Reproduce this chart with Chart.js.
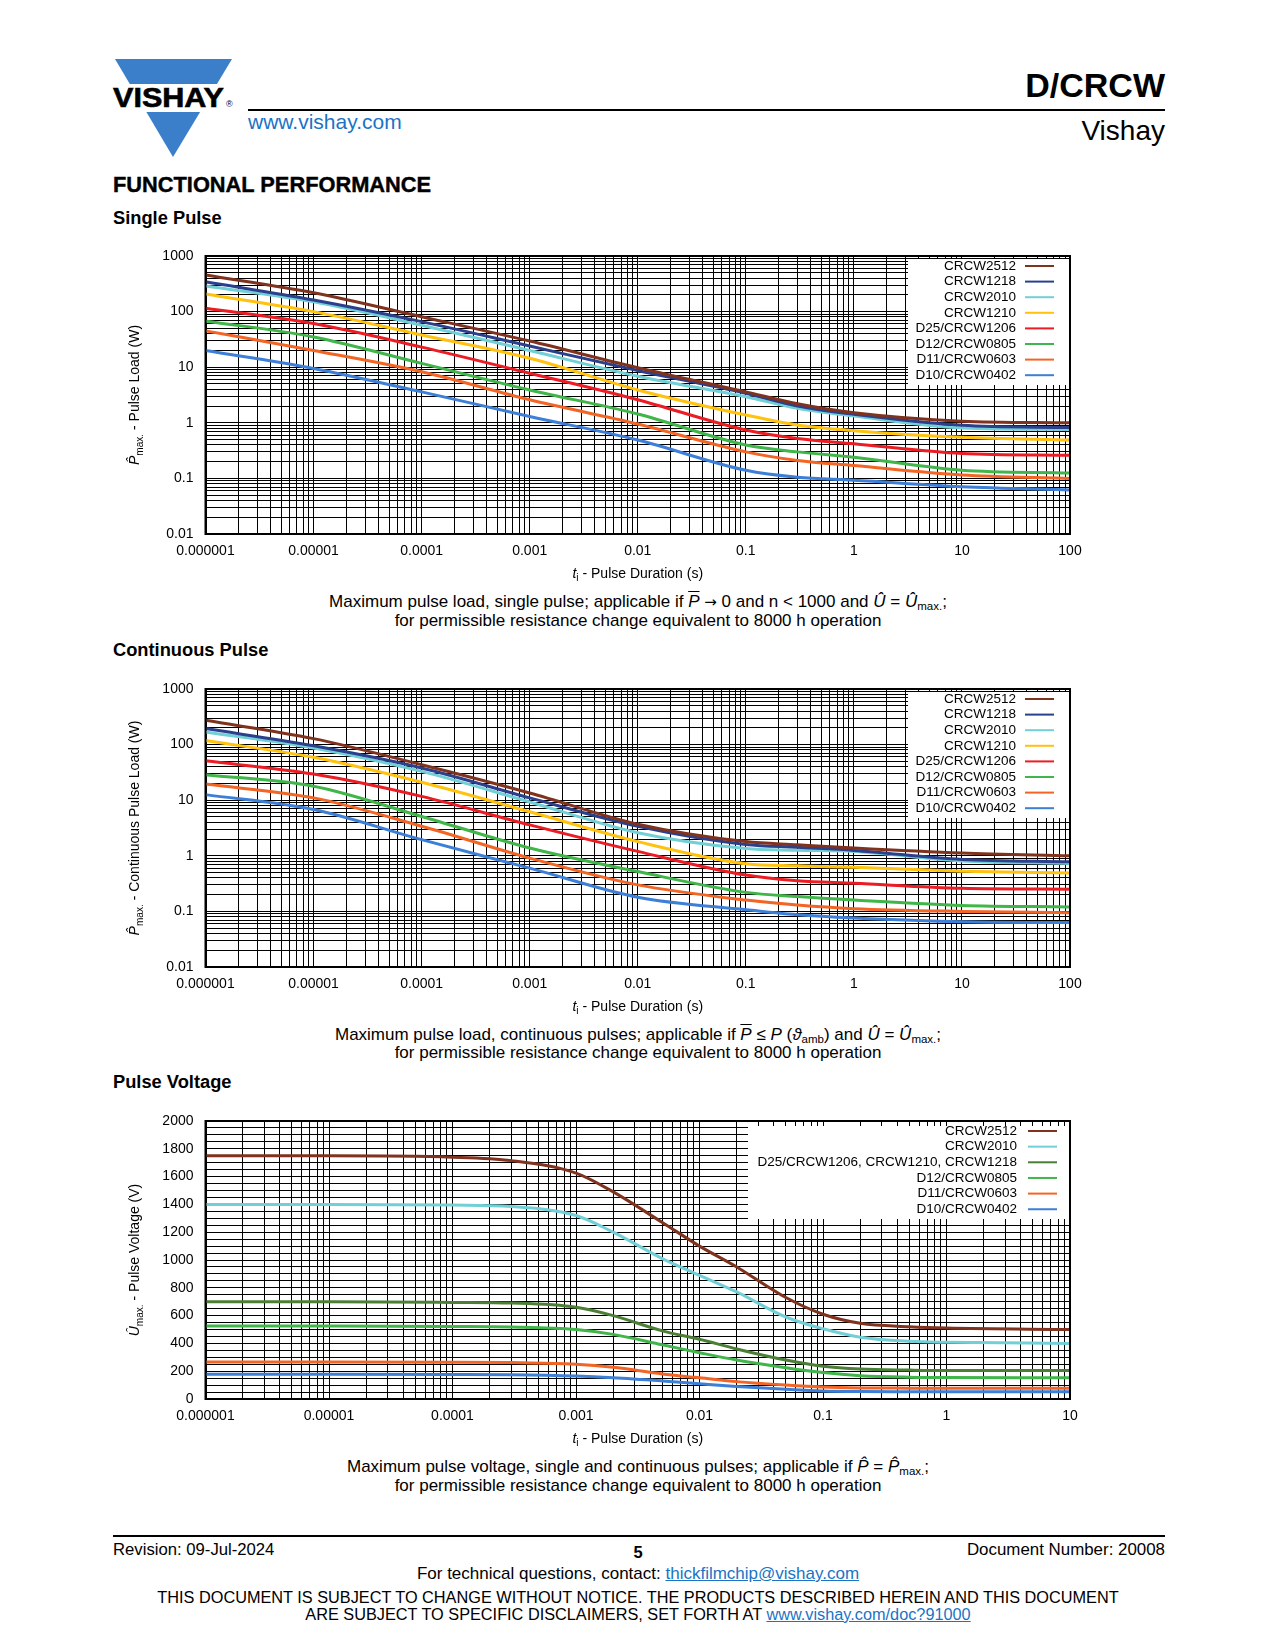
<!DOCTYPE html>
<html lang="en">
<head>
<meta charset="utf-8">
<title>D/CRCW - Functional Performance</title>
<script src="https://cdn.jsdelivr.net/npm/chart.js@4.4.1/dist/chart.umd.min.js"></script>
<style>
  body { margin: 0; background: #fff; font-family: "Liberation Sans", Arial, sans-serif; color: #000; }
  #page { position: relative; width: 1275px; height: 1650px; overflow: hidden; }
  .abs { position: absolute; white-space: nowrap; }
  .rule { position: absolute; background: #000; height: 2px; }
  .sec { left: 113px; font-weight: bold; font-size: 18.3px; line-height: 20px; }
  .cap { left: 138px; width: 1000px; text-align: center; font-size: 17px; line-height: 19px; }
  .cap sub { font-size: 11.5px; vertical-align: -3px; line-height: 0; }
  .ov { text-decoration: overline; }
  .arrow { font-family: "DejaVu Sans", sans-serif; font-size: 15px; }
  canvas { position: absolute; left: 100px; }
  a { color: #1a73c5; }
</style>
</head>
<body>
<div id="page">
  <svg class="abs" style="left:110px;top:55px" width="140" height="110">
    <polygon points="5,4 122,4 63,102" fill="#3b7fcb"/>
    <rect x="0" y="29" width="140" height="28" fill="#fff"/>
    <text x="3" y="52" font-family="Liberation Sans, Arial" font-weight="900" font-size="27" textLength="111" lengthAdjust="spacingAndGlyphs" stroke="#000" stroke-width="0.6">VISHAY</text>
    <text x="116" y="52" font-family="Liberation Sans, Arial" font-size="9">®</text>
  </svg>
  <div class="rule" style="left:248px;top:109px;width:917px"></div>
  <div class="abs" style="left:248px;top:110px;font-size:21px;line-height:24px;color:#1a73c5">www.vishay.com</div>
  <div class="abs" style="right:110px;top:65px;font-size:34px;line-height:40px;font-weight:bold">D/CRCW</div>
  <div class="abs" style="right:110px;top:114px;font-size:28px;line-height:34px">Vishay</div>

  <div class="abs" style="left:113px;top:172px;font-size:21.8px;line-height:25px;font-weight:bold;-webkit-text-stroke:0.4px #000">FUNCTIONAL PERFORMANCE</div>

  <div class="abs sec" style="top:208px">Single Pulse</div>
  <canvas id="c1" width="1000" height="350" style="top:240px"></canvas>
  <div class="abs cap" style="top:592px">Maximum pulse load, single pulse; applicable if <i class="ov">P</i> <span class="arrow">→</span> 0 and n &lt; 1000 and <i>Û</i> = <i>Û</i><sub>max.</sub>;</div>
  <div class="abs cap" style="top:611px">for permissible resistance change equivalent to 8000 h operation</div>

  <div class="abs sec" style="top:640px">Continuous Pulse</div>
  <canvas id="c2" width="1000" height="350" style="top:673px"></canvas>
  <div class="abs cap" style="top:1025px">Maximum pulse load, continuous pulses; applicable if <i class="ov">P</i> ≤ <i>P</i> (<i>ϑ</i><sub>amb</sub>) and <i>Û</i> = <i>Û</i><sub>max.</sub>;</div>
  <div class="abs cap" style="top:1043px">for permissible resistance change equivalent to 8000 h operation</div>

  <div class="abs sec" style="top:1072px">Pulse Voltage</div>
  <canvas id="c3" width="1000" height="350" style="top:1105px"></canvas>
  <div class="abs cap" style="top:1457px">Maximum pulse voltage, single and continuous pulses; applicable if <i>P̂</i> = <i>P̂</i><sub>max.</sub>;</div>
  <div class="abs cap" style="top:1476px">for permissible resistance change equivalent to 8000 h operation</div>

  <div class="rule" style="left:113px;top:1535px;width:1052px"></div>
  <div class="abs" style="left:113px;top:1541px;font-size:16.7px;line-height:18px">Revision: 09-Jul-2024</div>
  <div class="abs" style="left:138px;width:1000px;text-align:center;top:1543px;font-size:16.5px;line-height:18px;font-weight:bold">5</div>
  <div class="abs" style="right:110px;top:1541px;font-size:16.9px;line-height:18px">Document Number: 20008</div>
  <div class="abs cap" style="top:1564px">For technical questions, contact: <a href="mailto:thickfilmchip@vishay.com">thickfilmchip@vishay.com</a></div>
  <div class="abs cap" style="top:1588px;font-size:16.3px">THIS DOCUMENT IS SUBJECT TO CHANGE WITHOUT NOTICE. THE PRODUCTS DESCRIBED HEREIN AND THIS DOCUMENT</div>
  <div class="abs cap" style="top:1605px;font-size:16.3px">ARE SUBJECT TO SPECIFIC DISCLAIMERS, SET FORTH AT <a href="http://www.vishay.com/doc?91000">www.vishay.com/doc?91000</a></div>
</div>

<script>
// ---- data ----
const pulseTime = [1e-6, 1e-5, 1e-4, 1e-3, 1e-2, 0.1, 0.3, 1, 10, 100];
const seriesNames = ['CRCW2512', 'CRCW1218', 'CRCW2010', 'CRCW1210', 'D25/CRCW1206', 'D12/CRCW0805', 'D11/CRCW0603', 'D10/CRCW0402'];

// single pulse, P max (W)
const single2512 = [455, 219, 81, 29.5, 9.8, 3.6, 2.2, 1.52, 1.07, 1.0];
const single1218 = [345, 162, 66, 24, 8.7, 3.4, 2.0, 1.42, 0.9, 0.82];
const single2010 = [288, 150, 57, 20, 6.9, 2.95, 1.82, 1.32, 0.81, 0.76];
const single1210 = [207, 100, 38, 14.5, 3.9, 1.38, 0.91, 0.72, 0.55, 0.49];
const single1206 = [115, 61, 23, 7.8, 2.6, 0.74, 0.52, 0.42, 0.28, 0.26];
const single0805 = [68, 35, 11.7, 3.9, 1.44, 0.40, 0.30, 0.24, 0.14, 0.125];
const single0603 = [45, 20, 8.3, 2.6, 0.95, 0.30, 0.21, 0.17, 0.115, 0.10];
const single0402 = [20, 9.5, 3.6, 1.3, 0.49, 0.14, 0.105, 0.093, 0.071, 0.062];

// continuous pulses, P max (W)
const cont2512 = [273, 128, 43.5, 13.5, 3.7, 1.8, 1.58, 1.38, 1.12, 1.0];
const cont1218 = [194, 95, 38, 11, 3.4, 1.6, 1.42, 1.25, 0.86, 0.78];
const cont2010 = [169, 87, 33, 9.3, 2.6, 1.35, 1.26, 1.2, 0.81, 0.73];
const cont1210 = [118, 59, 21, 6.2, 1.8, 0.72, 0.66, 0.62, 0.53, 0.49];
const cont1206 = [51, 29.5, 11.7, 3.6, 1.2, 0.45, 0.355, 0.32, 0.26, 0.25];
const cont0805 = [28.8, 17.8, 5.1, 1.38, 0.52, 0.22, 0.185, 0.16, 0.128, 0.12];
const cont0603 = [19.5, 11, 3.4, 0.91, 0.30, 0.16, 0.13, 0.112, 0.10, 0.095];
const cont0402 = [12.6, 6.8, 1.95, 0.60, 0.18, 0.107, 0.087, 0.076, 0.065, 0.063];

// pulse voltage, U max (V)
const voltTime = [1e-6, 1e-5, 1e-4, 3e-4, 1e-3, 2e-3, 5e-3, 1e-2, 2e-2, 5e-2, 0.1, 0.2, 0.5, 1, 10];
const voltNames = ['CRCW2512', 'CRCW2010', 'D25/CRCW1206, CRCW1210, CRCW1218', 'D12/CRCW0805', 'D11/CRCW0603', 'D10/CRCW0402'];
const volt2512 = [1750, 1750, 1740, 1715, 1625, 1490, 1270, 1100, 950, 730, 610, 545, 520, 510, 500];
const volt2010 = [1400, 1400, 1395, 1385, 1320, 1200, 1010, 890, 770, 590, 505, 445, 415, 408, 400];
const volt1206 = [700, 700, 695, 690, 660, 600, 490, 430, 360, 280, 235, 215, 208, 205, 205];
const volt0805 = [525, 525, 522, 518, 500, 465, 390, 333, 280, 225, 190, 168, 157, 154, 153];
const volt0603 = [266, 266, 265, 262, 250, 228, 180, 153, 125, 100, 86, 80, 78, 77, 77];
const volt0402 = [178, 178, 177, 175, 165, 153, 130, 110, 90, 70, 58, 54, 53, 53, 53];

const xTicksPulse = ['0.000001', '0.00001', '0.0001', '0.001', '0.01', '0.1', '1', '10', '100'];
const xTicksVolt = ['0.000001', '0.00001', '0.0001', '0.001', '0.01', '0.1', '1', '10'];
const yTicksPower = ['0.01', '0.1', '1', '10', '100', '1000'];
const yTicksVolt = ['0', '200', '400', '600', '800', '1000', '1200', '1400', '1600', '1800', '2000'];

const colors8 = ['#7f321e', '#2b3f8c', '#71d0d6', '#ffc20e', '#ec1c24', '#40b549', '#f26524', '#3d7fd6'];
const colors6 = ['#7f321e', '#71d0d6', '#4a7f35', '#40b549', '#f26524', '#3d7fd6'];

const FONT = '"Liberation Sans", Arial, sans-serif';

// grid ticks 1..9 x 10^e for a log axis
function logTicks(minExp, maxExp) {
  const out = [];
  for (let e = minExp; e < maxExp; e++) {
    for (let m = 1; m < 10; m++) out.push({ value: Number((m * Math.pow(10, e)).toPrecision(10)) });
  }
  out.push({ value: Math.pow(10, maxExp) });
  return out;
}
function decadeLabel(labels, minExp) {
  return (v) => {
    const e = Math.log10(v);
    if (Math.abs(e - Math.round(e)) > 1e-6) return '';
    return labels[Math.round(e) - minExp] ?? '';
  };
}

function drawRich(ctx, segs, size) {
  let w = 0;
  const parts = segs.map(s => {
    const fs = s.sub ? size * 0.72 : size;
    const font = (s.it ? 'italic ' : '') + fs + 'px ' + FONT;
    ctx.font = font;
    const pw = ctx.measureText(s.t).width;
    w += pw;
    return { t: s.t, font, w: pw, dy: s.sub ? size * 0.32 : 0 };
  });
  let x = -w / 2;
  ctx.textAlign = 'left';
  ctx.textBaseline = 'middle';
  ctx.fillStyle = '#000';
  parts.forEach(p => { ctx.font = p.font; ctx.fillText(p.t, x, p.dy); x += p.w; });
}

function extras(cfg) {
  return {
    id: 'extras',
    afterDatasetsDraw(chart) {
      const ctx = chart.ctx, a = chart.chartArea;
      ctx.save();
      // legend box inside the plot
      const lg = cfg.legend;
      ctx.fillStyle = '#fff';
      ctx.fillRect(a.right - lg.left, a.top + lg.gap, lg.left - 1, lg.height - lg.gap);
      ctx.font = '13.5px ' + FONT;
      ctx.textAlign = 'right';
      ctx.textBaseline = 'middle';
      lg.names.forEach((n, i) => {
        const y = a.top + lg.row0 + i * lg.step;
        ctx.fillStyle = '#000';
        ctx.fillText(n, a.right - lg.textRight, y);
        ctx.strokeStyle = lg.colors[i];
        ctx.lineWidth = 2;
        ctx.beginPath();
        ctx.moveTo(a.right - lg.lineFrom, y);
        ctx.lineTo(a.right - lg.lineTo, y);
        ctx.stroke();
      });
      // frame
      ctx.strokeStyle = '#000';
      ctx.lineWidth = 2;
      ctx.strokeRect(a.left, a.top, a.right - a.left, a.bottom - a.top);
      // axis titles
      ctx.save();
      ctx.translate((a.left + a.right) / 2, a.bottom + 40);
      drawRich(ctx, cfg.xTitle, 14);
      ctx.restore();
      ctx.save();
      ctx.translate(a.left - 70, (a.top + a.bottom) / 2);
      ctx.rotate(-Math.PI / 2);
      drawRich(ctx, cfg.yTitle, 14);
      ctx.restore();
      ctx.restore();
    }
  };
}

function makeChart(id, cfg) {
  const datasets = cfg.series.map((vals, i) => ({
    label: cfg.names[i],
    data: vals.map((v, j) => ({ x: cfg.time[j], y: v })),
    borderColor: cfg.colors[i],
    borderWidth: 3,
    pointRadius: 0,
    cubicInterpolationMode: 'monotone',
    fill: false
  }));
  const tickFont = { family: FONT, size: 14 };
  new Chart(document.getElementById(id), {
    type: 'line',
    data: { datasets },
    options: {
      responsive: false,
      animation: false,
      layout: { padding: { top: 16, right: 30, left: 0, bottom: 0 } },
      plugins: { legend: { display: false }, tooltip: { enabled: false } },
      scales: {
        x: {
          type: 'logarithmic',
          min: cfg.xMin, max: cfg.xMax,
          afterBuildTicks: ax => { ax.ticks = logTicks(cfg.xExp[0], cfg.xExp[1]); },
          afterFit: ax => { ax.height = 56; },
          ticks: { autoSkip: false, maxRotation: 0, padding: 9, color: '#000', font: tickFont,
                   callback: decadeLabel(cfg.xLabels, cfg.xExp[0]) },
          grid: { color: '#000', lineWidth: 1, drawTicks: false },
          border: { color: '#000', width: 2 }
        },
        y: {
          type: cfg.yType,
          min: cfg.yMin, max: cfg.yMax,
          afterBuildTicks: cfg.yTicks,
          afterFit: ax => { ax.width = 105.5; ax.paddingTop = 0; ax.paddingBottom = 0; },
          ticks: { autoSkip: false, padding: 12, color: '#000', font: tickFont, callback: cfg.yLabel },
          grid: { color: '#000', lineWidth: 1, drawTicks: false },
          border: { color: '#000', width: 2 }
        }
      }
    },
    plugins: [extras(cfg)]
  });
}

const pulseLegend = { names: seriesNames, colors: colors8, left: 162, gap: 3, height: 129,
                      row0: 10, step: 15.6, textRight: 54, lineFrom: 45, lineTo: 16 };
const pulseX = [{ t: 't', it: true }, { t: 'i', sub: true }, { t: ' - Pulse Duration (s)' }];

makeChart('c1', {
  time: pulseTime, names: seriesNames, colors: colors8,
  series: [single2512, single1218, single2010, single1210, single1206, single0805, single0603, single0402],
  xMin: 1e-6, xMax: 100, xExp: [-6, 2], xLabels: xTicksPulse,
  yType: 'logarithmic', yMin: 0.01, yMax: 1000,
  yTicks: ax => { ax.ticks = logTicks(-2, 3); },
  yLabel: decadeLabel(yTicksPower, -2),
  legend: pulseLegend,
  xTitle: pulseX,
  yTitle: [{ t: 'P\u0302', it: true }, { t: 'max.', sub: true }, { t: ' - Pulse Load (W)' }]
});

makeChart('c2', {
  time: pulseTime, names: seriesNames, colors: colors8,
  series: [cont2512, cont1218, cont2010, cont1210, cont1206, cont0805, cont0603, cont0402],
  xMin: 1e-6, xMax: 100, xExp: [-6, 2], xLabels: xTicksPulse,
  yType: 'logarithmic', yMin: 0.01, yMax: 1000,
  yTicks: ax => { ax.ticks = logTicks(-2, 3); },
  yLabel: decadeLabel(yTicksPower, -2),
  legend: pulseLegend,
  xTitle: pulseX,
  yTitle: [{ t: 'P\u0302', it: true }, { t: 'max.', sub: true }, { t: ' - Continuous Pulse Load (W)' }]
});

makeChart('c3', {
  time: voltTime, names: voltNames, colors: colors6,
  series: [volt2512, volt2010, volt1206, volt0805, volt0603, volt0402],
  xMin: 1e-6, xMax: 10, xExp: [-6, 1], xLabels: xTicksVolt,
  yType: 'linear', yMin: 0, yMax: 2000,
  yTicks: ax => { const t = []; for (let v = 0; v <= 2000; v += 50) t.push({ value: v }); ax.ticks = t; },
  yLabel: v => (v % 200 === 0 ? yTicksVolt[v / 200] : ''),
  legend: { names: voltNames, colors: colors6, left: 322, gap: 5, height: 98,
            row0: 10, step: 15.65, textRight: 53, lineFrom: 42, lineTo: 13 },
  xTitle: pulseX,
  yTitle: [{ t: '\u00DB', it: true }, { t: 'max.', sub: true }, { t: ' - Pulse Voltage (V)' }]
});
</script>
</body>
</html>
